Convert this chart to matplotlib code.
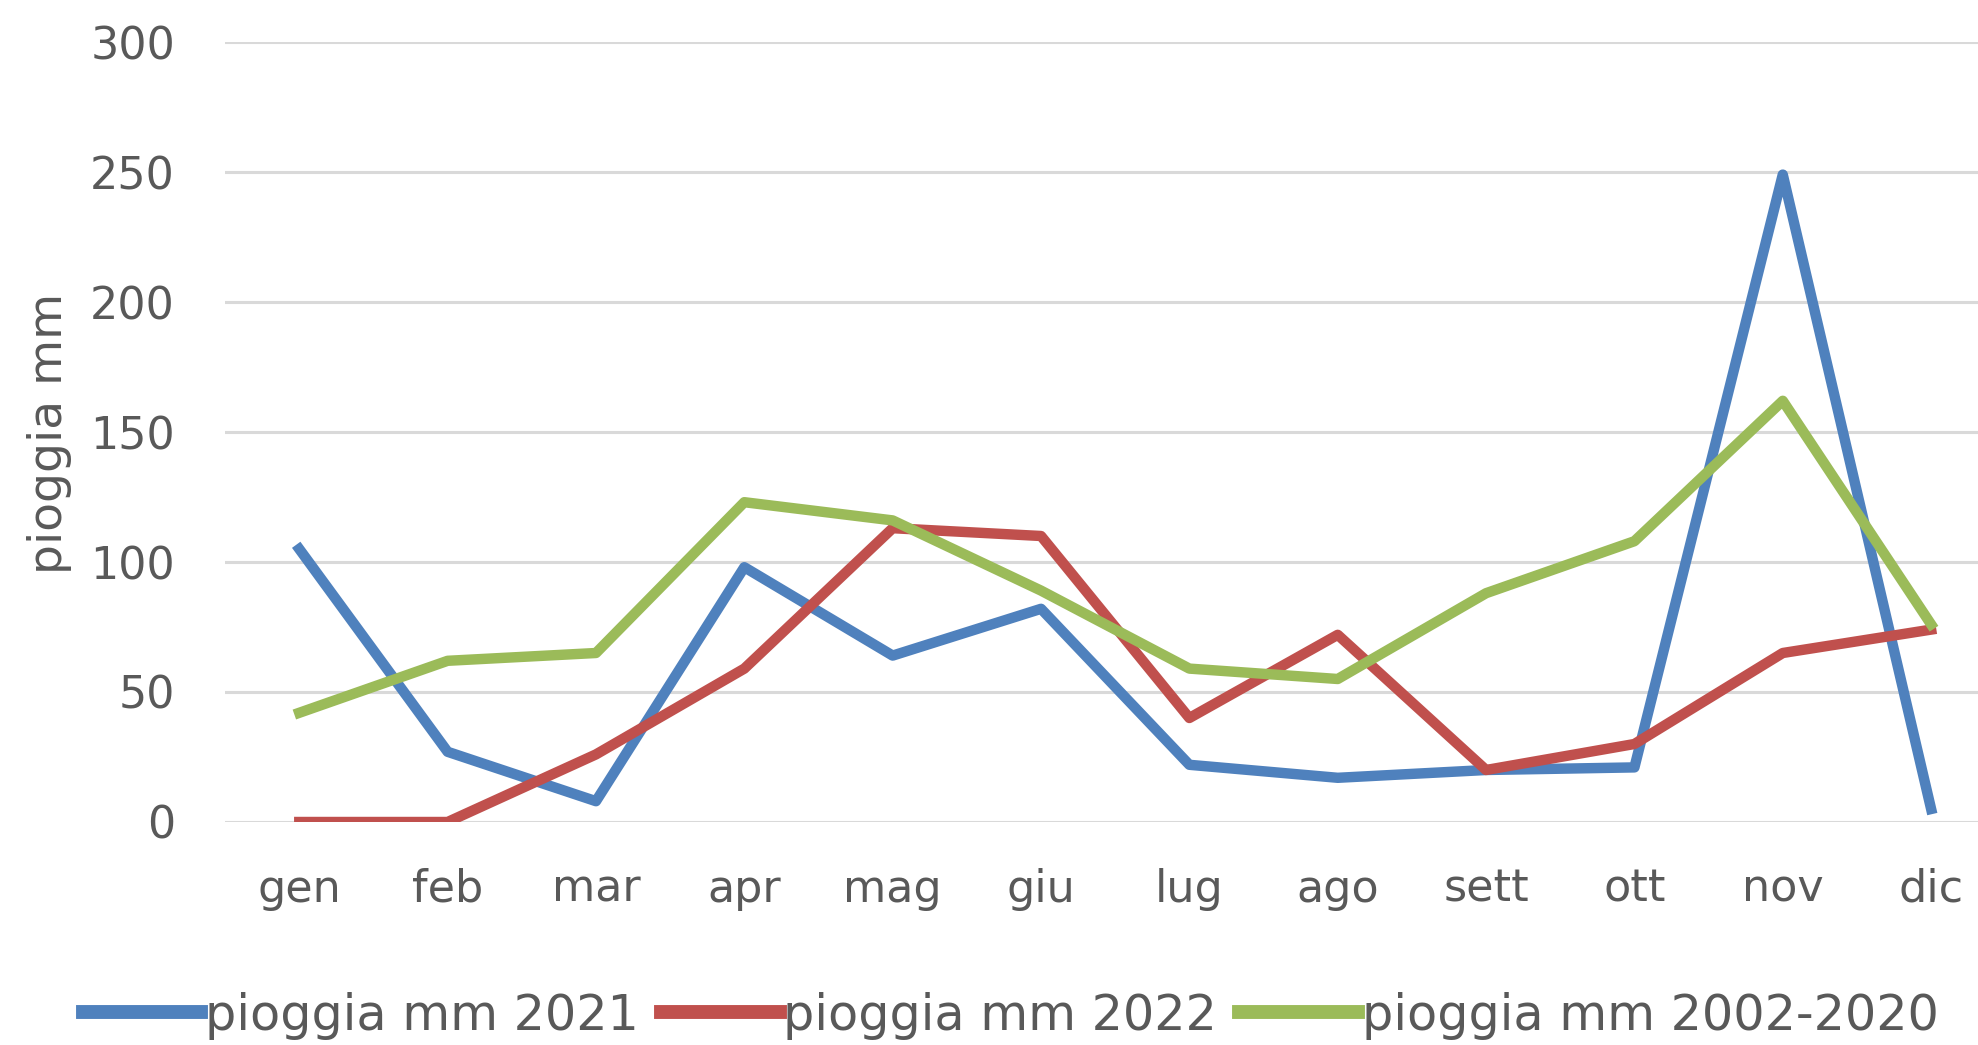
import matplotlib
matplotlib.use("Agg")
import matplotlib.pyplot as plt

# monthly rainfall (mm)
mesi = ["gen", "feb", "mar", "apr", "mag", "giu", "lug", "ago", "sett", "ott", "nov", "dic"]
pioggia_2021 = [105, 27, 8, 98, 64, 82, 22, 17, 20, 21, 249, 5]
pioggia_2022 = [0, 0, 26, 59, 113, 110, 40, 72, 20, 30, 65, 74]
pioggia_media = [42, 62, 65, 123, 116, 89, 59, 55, 88, 108, 162, 76]
yticks = [0, 50, 100, 150, 200, 250, 300]

testo = "#595959"

fig = plt.figure(figsize=(19.78, 10.45), dpi=100)
ax = fig.add_axes([0.1138, 0.2134, 0.900, 0.7464])

x = range(len(mesi))
ax.plot(x, pioggia_2021, color="#4f81bd", lw=7.5, label="pioggia mm 2021")
ax.plot(x, pioggia_2022, color="#c0504d", lw=7.5, label="pioggia mm 2022")
ax.plot(x, pioggia_media, color="#9bbb59", lw=7.5, label="pioggia mm 2002-2020")

ax.set_xlim(-0.5, len(mesi) - 0.5)
ax.set_ylim(0, 300)
ax.set_xticks(list(x))
ax.set_xticklabels(mesi)
ax.set_yticks(yticks)
ax.grid(axis="y", color="#d9d9d9", lw=2.2)
ax.set_axisbelow(True)
for s in ax.spines.values():
    s.set_visible(False)
ax.tick_params(axis="x", length=0, pad=33, labelsize=32, labelcolor=testo)
ax.tick_params(axis="y", length=0, pad=36, labelsize=32, labelcolor=testo)

fig.text(50 / 1978, 0.5856, "pioggia mm", rotation=90, ha="center", va="center",
         fontsize=34, color=testo)

leg = fig.legend(loc="center", bbox_to_anchor=(0.511, 0.028), ncol=3, frameon=False,
                 fontsize=35.5, handlelength=2.4, handletextpad=0.08, columnspacing=0.45,
                 labelcolor=testo)
for h in leg.get_lines():
    h.set_linewidth(10)

fig.savefig("out.png", dpi=100)
